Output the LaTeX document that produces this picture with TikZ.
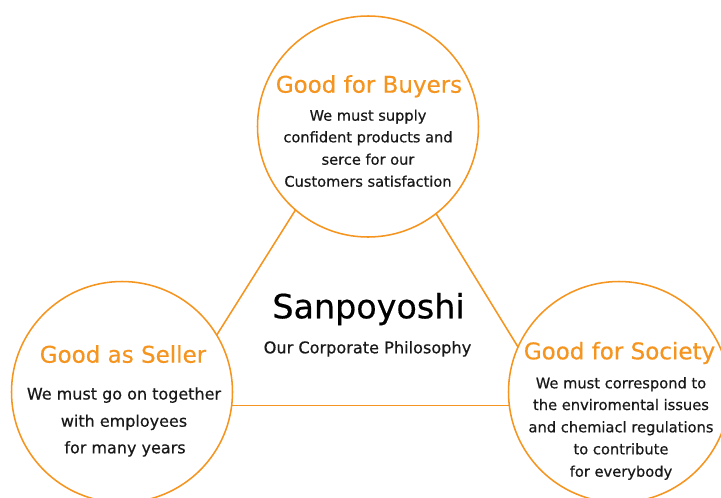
\documentclass[tikz,border=0pt]{standalone}
\usepackage{fontspec}
\setmainfont{DejaVu Sans}
\newfontfamily\medfont{DejaVu Sans}[FakeBold=0.5]
\newfontfamily\lightmed{DejaVu Sans}[FakeBold=0.3]
\definecolor{sporange}{RGB}{245,148,30}
\definecolor{sptext}{RGB}{25,25,25}
\begin{document}
\begin{tikzpicture}[x=0.75pt,y=-0.75pt,
  bubble/.style={circle,draw=sporange,line width=1.15pt,fill=white,minimum size=165.75pt,inner sep=0pt,outer sep=0pt},
  link/.style={draw=sporange,line width=1.15pt},
  head/.style={anchor=base,inner sep=0pt,text=sporange,font=\lightmed\fontsize{17.25pt}{20pt}\selectfont},
  bodyA/.style={anchor=base,inner sep=0pt,text=sptext,font=\medfont\fontsize{10.95pt}{13pt}\selectfont},
  bodyB/.style={anchor=base,inner sep=0pt,text=sptext,font=\medfont\fontsize{12pt}{14pt}\selectfont},
  bodyC/.style={anchor=base,inner sep=0pt,text=sptext,font=\medfont\fontsize{11pt}{13pt}\selectfont},
  bigtitle/.style={anchor=base,inner sep=0pt,text=black,font=\medfont\fontsize{25pt}{30pt}\selectfont},
  subtitle/.style={anchor=base,inner sep=0pt,text=sptext,font=\medfont\fontsize{12.1pt}{14pt}\selectfont}]
\useasboundingbox (0,0) rectangle (721,497);
\fill[white] (0,0) rectangle (721,497);
% circles
\node[bubble] (top) at (368,126.5) {};
\node[bubble] (left) at (122,392) {};
\node[bubble] (right) at (619,392) {};
% connectors
\draw[link] (top.229.2) -- (left.31.8);
\draw[link] (top.-52.9) -- (right.156);
\draw[link] (left.-7.8) -- (right.187.8);
% top texts
\node[head] (tH) at (369,92.7) {Good for Buyers};
\node[bodyA] (t1) at (368,120.7) {We must supply};
\node[bodyA] (t2) at (368,142.3) {confident products and};
\node[bodyA] (t3) at (368,164.7) {serce for our};
\node[bodyA] (t4) at (368,186.7) {Customers satisfaction};
% left texts
\node[head] (lH) at (123,362.7) {Good as Seller};
\node[bodyB] (l1) at (124,399.5) {We must go on together};
\node[bodyB] (l2) at (124,426.7) {with employees};
\node[bodyB] (l3) at (125,453.3) {for many years};
% right texts
\node[head] (rH) at (619.5,359.3) {Good for Society};
\node[bodyC] (r1) at (621,388.3) {We must correspond to};
\node[bodyC] (r2) at (621,410) {the enviromental issues};
\node[bodyC] (r3) at (621,432.3) {and chemiacl regulations};
\node[bodyC] (r4) at (621,454.3) {to contribute};
\node[bodyC] (r5) at (621,476.7) {for everybody};
% center
\node[bigtitle] (cT) at (368.5,318.3) {Sanpoyoshi};
\node[subtitle] (cS) at (367.5,353.3) {Our Corporate Philosophy};
\end{tikzpicture}
\end{document}
